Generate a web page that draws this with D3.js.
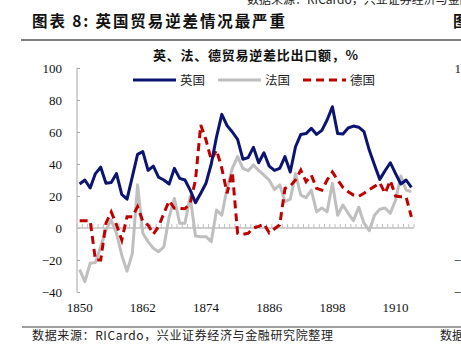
<!DOCTYPE html>
<html><head><meta charset="utf-8">
<script src="https://cdn.jsdelivr.net/npm/d3@7/dist/d3.min.js"></script>
<style>
html,body{margin:0;padding:0;background:#fff;overflow:hidden;}
svg{display:block;}
</style></head>
<body>
<svg id="c" width="461" height="347"></svg>
<script>
const years = d3.range(1850, 1914);
const uk = [27.5,30,25,34,38,28,28.5,34,21,18,32,46,47.7,36,38.7,31.7,
  30,27.5,37.3,31,30,23.7,15.8,21.7,28,40,57,71,64,60,55.4,43,
  44,50.4,40.8,47,38.7,36,37.3,44.6,35,50.8,58.5,59,62.3,58.5,61,67.5,
  75.8,59,58.7,62.5,63.7,63,60.2,48.7,39.4,30.4,35.8,40.8,34,27.5,30,25.4];
const france = [-26,-33.5,-22,-21.5,-11.7,-1.2,5,-3.3,-17,-27,-16,27,-3.3,-8.5,-12.7,-14.8,
  -11.7,7,18.5,3,3,19.6,-5,-5.4,-5.4,-8.5,11.2,8,24.8,37.3,44.6,37.3,
  35.8,39.4,36,33,30,24,27,16.5,18,34,20.6,19,23.7,10.2,12.5,10.2,
  28,8,14.4,9.2,4.6,13,3,-1.7,8,11.7,12.5,9.2,17.5,32.5,23.7,22.7];
const germany = [4.6,4.6,4.6,-20,-20,3,10,2,-7.5,7,7,13.3,4.3,1.9,-3.8,1,
  9.2,17,12.3,12.3,12,15.4,30,64.4,55,42.5,48.7,37.3,21.7,35,-3.3,-4,
  -3.3,0,1,2.5,-3,-0.5,1.9,24.8,26.2,30,36.2,29,33,24.8,23.7,30,
  35,30,25.4,22.7,20.6,19.8,21.7,24,26,28.3,21.7,29.6,20,19.6,19.4,7];
const yTicks = [100,80,60,40,20,0,-20,-40];
const xLabelYears = [1850,1862,1874,1886,1898,1910];
const seriesNames = ["英国","法国","德国"];
const colors = ["#0b1470","#bfbfbf","#c00000"];

const svg = d3.select("#c");
const cjk = "'Noto Sans CJK SC','Noto Sans',sans-serif";
const serif = "'Liberation Serif','Times New Roman',serif";

// page decorations
svg.append("text").attr("x",247).attr("y",4).attr("font-family",cjk).attr("font-size",12)
  .attr("fill","#222").text("数据来源：RICardo，兴业证券经济与金融研究院整理");
svg.append("text").attr("x",32).attr("y",26.5).attr("font-family",cjk).attr("font-size",15.5)
  .attr("font-weight","bold").attr("fill","#111").attr("textLength",253).attr("lengthAdjust","spacing")
  .text("图表 8: 英国贸易逆差情况最严重");
svg.append("text").attr("x",453).attr("y",26.5).attr("font-family",cjk).attr("font-size",15.5)
  .attr("font-weight","bold").attr("fill","#111").text("图表");
svg.append("line").attr("x1",21).attr("x2",461).attr("y1",40).attr("y2",40)
  .attr("stroke","#7f7f7f").attr("stroke-width",2);
svg.append("line").attr("x1",22).attr("x2",461).attr("y1",327).attr("y2",327)
  .attr("stroke","#7f7f7f").attr("stroke-width",1.5);
svg.append("text").attr("x",32).attr("y",339.5).attr("font-family",cjk).attr("font-size",12)
  .attr("fill","#222").attr("textLength",301).attr("lengthAdjust","spacing")
  .text("数据来源：RICardo，兴业证券经济与金融研究院整理");
svg.append("text").attr("x",440).attr("y",339.5).attr("font-family",cjk).attr("font-size",12)
  .attr("fill","#222").text("数据来源");

// chart title
svg.append("text").attr("x",153).attr("y",60).attr("font-family",cjk).attr("font-size",13)
  .attr("font-weight","bold").attr("fill","#111").attr("textLength",205).attr("lengthAdjust","spacing")
  .text("英、法、德贸易逆差比出口额，%");

// scales
const x = d3.scaleBand().domain(years).range([77,414]);
const xc = d => x(d) + x.bandwidth()/2;
const y = d3.scaleLinear().domain([-40,100]).range([292,68]);

// y axis
const yAxis = d3.axisLeft(y).tickValues(yTicks).tickSize(-3).tickPadding(15).tickFormat(d3.format("d"));
const gy = svg.append("g").attr("transform","translate(77,0)").call(yAxis);
gy.select(".domain").attr("stroke","#a6a6a6").attr("d","M0,68V292");
gy.selectAll(".tick line").attr("stroke","#a6a6a6");
gy.selectAll("text").attr("font-family",serif).attr("font-size",13).attr("fill","#111");

// neighbouring chart's y labels (cropped at right edge)
const gy2 = svg.append("g").attr("transform","translate(474,0)")
  .call(d3.axisLeft(y).tickValues(yTicks).tickSize(0).tickPadding(0).tickFormat(d3.format("d")));
gy2.select(".domain").remove();
gy2.selectAll("text").attr("font-family",serif).attr("font-size",13).attr("fill","#111");

// x axis at zero
const gx = svg.append("g").attr("transform",`translate(0,${y(0)})`);
gx.append("line").attr("x1",77).attr("x2",414).attr("y1",0).attr("y2",0)
  .attr("stroke","#bfbfbf").attr("stroke-width",1.5);
const edges = years.map(d=>x(d)).concat([414]);
gx.selectAll("line.tk").data(edges).join("line").attr("class","tk")
  .attr("x1",d=>d).attr("x2",d=>d).attr("y1",0).attr("y2",-4)
  .attr("stroke","#bfbfbf").attr("stroke-width",1);
svg.append("g").selectAll("text").data(xLabelYears).join("text")
  .attr("x",d=>xc(d)).attr("y",311.5).attr("text-anchor","middle")
  .attr("font-family",serif).attr("font-size",13).attr("fill","#111").text(d=>d);

// lines
const line = d3.line().x((d,i)=>xc(years[i])).y(d=>y(d));
svg.append("path").datum(france).attr("d",line).attr("fill","none")
  .attr("stroke",colors[1]).attr("stroke-width",3).attr("stroke-linejoin","round");
svg.append("path").datum(germany).attr("d",line).attr("fill","none")
  .attr("stroke",colors[2]).attr("stroke-width",3).attr("stroke-dasharray","8,5");
svg.append("path").datum(uk).attr("d",line).attr("fill","none")
  .attr("stroke",colors[0]).attr("stroke-width",3).attr("stroke-linejoin","round");

// legend
const legX = [133,218,303];
const lg = svg.append("g");
seriesNames.forEach((n,i)=>{
  lg.append("line").attr("x1",legX[i]).attr("x2",legX[i]+43).attr("y1",80).attr("y2",80)
    .attr("stroke",colors[i]).attr("stroke-width",3)
    .attr("stroke-dasharray", i===2 ? "8,5" : null);
  lg.append("text").attr("x",legX[i]+47).attr("y",84.5).attr("font-family",cjk)
    .attr("font-size",12.5).attr("fill","#222").text(n);
});
</script>
</body></html>
